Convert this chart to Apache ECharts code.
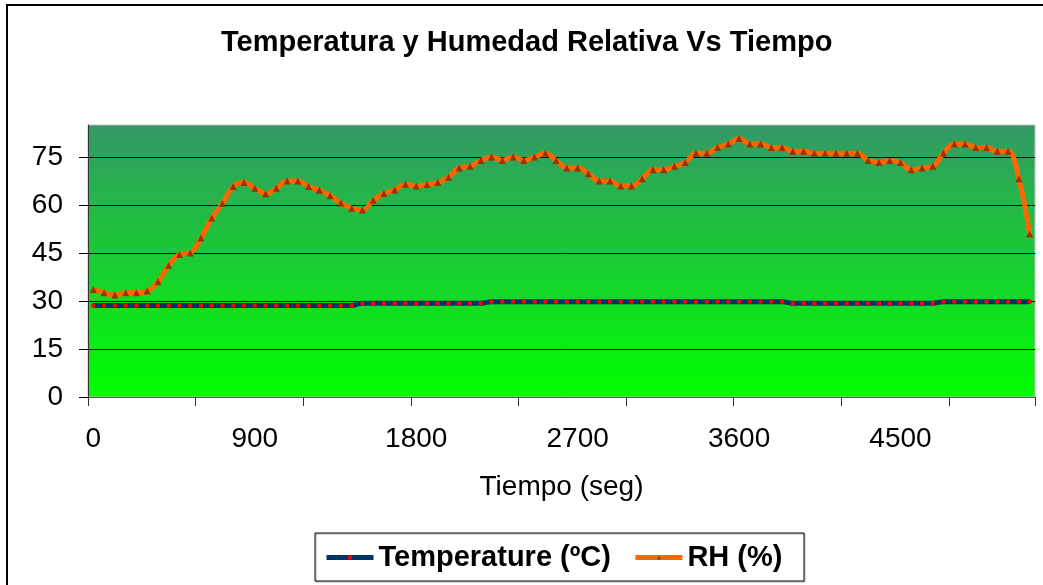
<!DOCTYPE html>
<html>
<head>
<meta charset="utf-8">
<title>Temperatura y Humedad Relativa Vs Tiempo</title>
<script src="https://cdn.jsdelivr.net/npm/echarts@6/dist/echarts.min.js"></script>
<style>
  html, body { margin: 0; padding: 0; background: #fff; }
  #chart { width: 1043px; height: 585px; }
</style>
</head>
<body>
<div id="chart"></div>
<script>
// tiempo en segundos (una lectura por minuto)
const tiempo = [
  0, 60, 120, 180, 240, 300, 360, 420, 480, 540,
  600, 660, 720, 780, 840, 900, 960, 1020, 1080, 1140,
  1200, 1260, 1320, 1380, 1440, 1500, 1560, 1620, 1680, 1740,
  1800, 1860, 1920, 1980, 2040, 2100, 2160, 2220, 2280, 2340,
  2400, 2460, 2520, 2580, 2640, 2700, 2760, 2820, 2880, 2940,
  3000, 3060, 3120, 3180, 3240, 3300, 3360, 3420, 3480, 3540,
  3600, 3660, 3720, 3780, 3840, 3900, 3960, 4020, 4080, 4140,
  4200, 4260, 4320, 4380, 4440, 4500, 4560, 4620, 4680, 4740,
  4800, 4860, 4920, 4980, 5040, 5100, 5160, 5220
];

// Temperature (ºC)
const temperatura = [
  28.6, 28.6, 28.6, 28.6, 28.6, 28.6, 28.6, 28.6, 28.6, 28.6,
  28.6, 28.6, 28.6, 28.6, 28.6, 28.6, 28.6, 28.6, 28.6, 28.6,
  28.6, 28.6, 28.6, 28.6, 28.6, 29.3, 29.3, 29.3, 29.3, 29.3,
  29.3, 29.3, 29.3, 29.3, 29.3, 29.3, 29.3, 29.8, 29.8, 29.8,
  29.8, 29.8, 29.8, 29.8, 29.8, 29.8, 29.8, 29.8, 29.8, 29.8,
  29.8, 29.8, 29.8, 29.8, 29.8, 29.8, 29.8, 29.8, 29.8, 29.8,
  29.8, 29.8, 29.8, 29.8, 29.8, 29.3, 29.3, 29.3, 29.3, 29.3,
  29.3, 29.3, 29.3, 29.3, 29.3, 29.3, 29.3, 29.3, 29.3, 29.8,
  29.8, 29.8, 29.8, 29.8, 29.8, 29.8, 29.8, 29.8
];

// RH (%)
const humedad = [
  33.6, 32.6, 31.9, 32.6, 32.6, 33.1, 36.0, 41.1, 44.5, 45.0,
  49.7, 55.9, 60.5, 65.8, 67.0, 65.2, 63.5, 65.2, 67.5, 67.5,
  65.8, 64.6, 62.9, 60.6, 59.0, 58.4, 61.5, 63.6, 64.7, 66.5,
  65.9, 66.4, 67.0, 68.7, 71.6, 72.1, 73.9, 75.0, 73.9, 75.0,
  73.9, 75.0, 76.2, 73.9, 71.6, 71.6, 69.8, 67.5, 67.5, 65.9,
  65.9, 68.2, 71.0, 71.0, 72.1, 73.3, 76.2, 76.2, 78.0, 79.1,
  80.8, 79.1, 79.1, 78.0, 78.0, 76.8, 76.8, 76.2, 76.2, 76.2,
  76.2, 76.2, 73.9, 73.3, 73.9, 73.3, 71.0, 71.6, 72.1, 76.2,
  79.1, 79.1, 78.0, 78.0, 76.8, 76.8, 68.2, 50.9
];

const yTicks = [0, 15, 30, 45, 60, 75];

const fontName = '"Liberation Sans", Arial, sans-serif';

const chart = echarts.init(document.getElementById('chart'));

const option = {
  backgroundColor: '#fff',
  animation: false,
  title: {
    text: 'Temperatura y Humedad Relativa Vs Tiempo',
    left: 221,
    top: 28,
    padding: 0,
    textStyle: { fontFamily: fontName, fontSize: 29, fontWeight: 'bold', color: '#000' }
  },
  legend: {
    left: 324,
    top: 543,
    padding: 0,
    itemWidth: 47,
    itemHeight: 5,
    itemGap: 22,
    lineStyle: { width: 5 },
    textStyle: { fontFamily: fontName, fontSize: 29, fontWeight: 'bold', color: '#000' },
    data: ['Temperature (ºC)', 'RH (%)']
  },
  grid: {
    left: 88,
    right: 8,
    top: 125,
    bottom: 188,
    show: true,
    borderColor: '#c0c0c0',
    borderWidth: 1,
    backgroundColor: {
      type: 'linear', x: 0, y: 0, x2: 0, y2: 1,
      colorStops: [
        { offset: 0, color: '#339966' },
        { offset: 1, color: '#00ff00' }
      ]
    }
  },
  xAxis: {
    type: 'category',
    data: tiempo,
    boundaryGap: true,
    name: 'Tiempo (seg)',
    nameLocation: 'middle',
    nameGap: 76,
    nameTextStyle: { fontFamily: fontName, fontSize: 28, color: '#000' },
    axisLine: { lineStyle: { color: '#555', width: 1 } },
    axisTick: { show: true, interval: 9, length: 9, lineStyle: { color: '#333', width: 1 } },
    axisLabel: { interval: 14, margin: 28, fontFamily: fontName, fontSize: 28, color: '#000' },
    splitLine: { show: false }
  },
  yAxis: {
    type: 'value',
    min: 0,
    max: 85,
    interval: 15,
    axisLine: { show: true, lineStyle: { color: '#333', width: 1 } },
    axisTick: { show: true, length: 9, customValues: yTicks, lineStyle: { color: '#000', width: 1 } },
    axisLabel: { margin: 25, customValues: yTicks, fontFamily: fontName, fontSize: 28, color: '#000' },
    splitLine: { show: true, lineStyle: { color: '#000', width: 1 } }
  },
  series: [
    {
      name: 'Temperature (ºC)',
      type: 'line',
      data: temperatura,
      smooth: 0.4,
      showAllSymbol: true,
      symbol: 'rect',
      symbolSize: 4,
      lineStyle: { color: '#003366', width: 5 },
      itemStyle: { color: '#ff0000', borderWidth: 0 },
      z: 2
    },
    {
      name: 'RH (%)',
      type: 'line',
      data: humedad,
      smooth: 0.4,
      showAllSymbol: true,
      symbol: 'triangle',
      symbolSize: 7,
      lineStyle: { color: '#ff6600', width: 5 },
      itemStyle: { color: '#993300', borderWidth: 0 },
      z: 3
    }
  ],
  graphic: [
    {
      type: 'rect',
      shape: { x: 7, y: 5, width: 1060, height: 600 },
      style: { fill: null, stroke: '#000', lineWidth: 2 },
      silent: true
    },
    {
      type: 'rect',
      shape: { x: 315, y: 533, width: 489, height: 48 },
      style: { fill: null, stroke: '#000', lineWidth: 1, shadowColor: 'rgba(0,0,0,0.35)', shadowOffsetX: 1, shadowOffsetY: 1 },
      silent: true
    }
  ]
};

chart.setOption(option);
</script>
</body>
</html>
